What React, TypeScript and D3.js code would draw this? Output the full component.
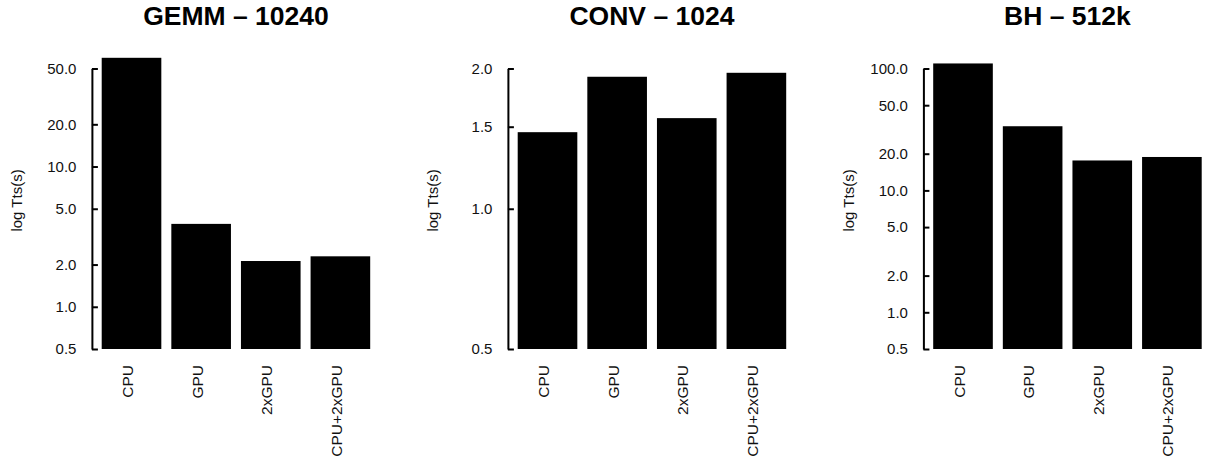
import React, { useEffect, useRef } from 'react'
import * as d3 from 'd3'

const categories = ['CPU', 'GPU', '2xGPU', 'CPU+2xGPU']

const gemmTimes = [59.6, 3.9, 2.12, 2.29]
const convTimes = [1.46, 1.92, 1.565, 1.958]
const bhTimes = [110, 33.6, 17.6, 18.8]

const gemmTicks = [0.5, 1, 2, 5, 10, 20, 50]
const convTicks = [0.5, 1, 1.5, 2]
const bhTicks = [0.5, 1, 2, 5, 10, 20, 50, 100]

const titles = ['GEMM \u2013 10240', 'CONV \u2013 1024', 'BH \u2013 512k']
const yLabel = 'log Tts(s)'

const WIDTH = 1208
const HEIGHT = 461
const FONT = '"Liberation Sans", Arial, Helvetica, sans-serif'

// each panel: left offset of the plotting area, values, ticks
const panels = [
  { left: 0, values: gemmTimes, ticks: gemmTicks },
  { left: 416, values: convTimes, ticks: convTicks },
  { left: 831.5, values: bhTimes, ticks: bhTicks },
]

export default function App() {
  const ref = useRef<SVGSVGElement | null>(null)

  useEffect(() => {
    const svg = d3.select(ref.current)
    svg.selectAll('*').remove()

    const bottom = 349
    const axisGap = 9.8

    panels.forEach((p, i) => {
      const g = svg.append('g').attr('transform', `translate(${p.left},0)`)

      const x = d3.scaleBand<string>()
        .domain(categories)
        .range([101.7, 370.2])
        .paddingInner(0.1437)
        .paddingOuter(0)

      const topTick = p.ticks[p.ticks.length - 1]
      const y = d3.scaleLog()
        .domain([0.5, topTick])
        .range([bottom, 68.5])

      // bars, drawn up from the lower limit of the log axis
      g.selectAll('rect')
        .data(p.values)
        .enter().append('rect')
        .attr('x', (d, j) => x(categories[j]) as number)
        .attr('width', x.bandwidth())
        .attr('y', d => y(d))
        .attr('height', d => y(0.5) - y(d))
        .attr('fill', '#000')

      // y axis, ticks pointing inward as in the original
      const axisX = (x(categories[0]) as number) - axisGap
      const yAxis = g.append('g')
        .attr('transform', `translate(${axisX},0)`)
        .call(d3.axisLeft(y)
          .tickValues(p.ticks)
          .tickFormat(d3.format('.1f'))
          .tickSizeInner(-6)
          .tickSizeOuter(0)
          .tickPadding(15.5))
      yAxis.select('.domain').attr('stroke', '#000').attr('stroke-width', 2)
      yAxis.selectAll('.tick line').attr('stroke', '#000').attr('stroke-width', 2)
      yAxis.selectAll('.tick text')
        .attr('fill', '#111')
        .style('font-family', FONT)
        .style('font-size', '15px')
      yAxis.attr('font-family', null).attr('font-size', null)

      // category labels, rotated
      g.selectAll('text.cat')
        .data(categories)
        .enter().append('text')
        .attr('class', 'cat')
        .attr('transform', d => `translate(${(x(d) as number) + x.bandwidth() / 2},365) rotate(-90)`)
        .attr('dy', '0.1em')
        .attr('text-anchor', 'end')
        .style('font-family', FONT)
        .style('font-size', '15.5px')
        .attr('fill', '#111')
        .text(d => d)

      // y label
      g.append('text')
        .attr('transform', 'translate(22,200.5) rotate(-90)')
        .attr('text-anchor', 'middle')
        .style('font-family', FONT)
        .style('font-size', '15px')
        .attr('fill', '#111')
        .text(yLabel)

      // title
      const [r0, r1] = x.range()
      g.append('text')
        .attr('x', (r0 + r1) / 2)
        .attr('y', 25)
        .attr('text-anchor', 'middle')
        .style('font-family', FONT)
        .style('font-size', '26.5px')
        .style('font-weight', 'bold')
        .attr('fill', '#000')
        .text(titles[i])
    })
  }, [])

  return (
    <svg
      ref={ref}
      width={WIDTH}
      height={HEIGHT}
      style={{ position: 'absolute', left: 0, top: 0, background: '#fff' }}
    />
  )
}
